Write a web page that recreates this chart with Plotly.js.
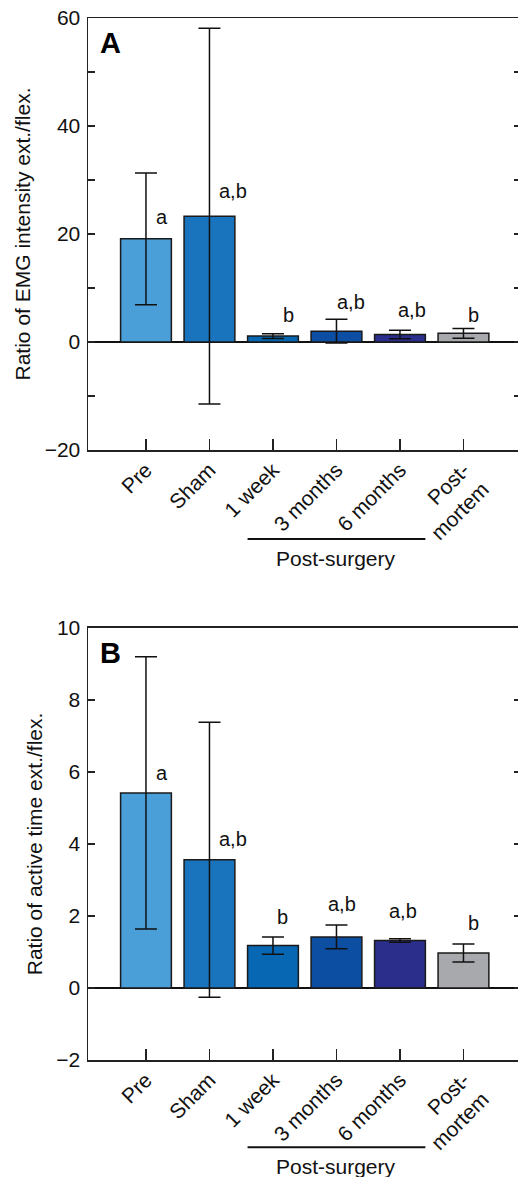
<!DOCTYPE html>
<html>
<head>
<meta charset="utf-8">
<script src="https://cdn.plot.ly/plotly-3.0.1.min.js"></script>
<style>
html,body{margin:0;padding:0;overflow:hidden;background:#fff;}
#chart{width:524px;height:1177px;}
</style>
</head>
<body>
<div id="chart"></div>
<script>
// ---- data ----
const categories = ["Pre", "Sham", "1 week", "3 months", "6 months", "Post-mortem"];
const tickLabels = ["Pre", "Sham", "1 week", "3 months", "6 months", "Post-<br>mortem"];

const emgMean = [19.1, 23.3, 1.1, 2.0, 1.4, 1.6];
const emgErr  = [12.2, 34.8, 0.45, 2.2, 0.8, 0.9];
const emgLetters = ["a", "a,b", "b", "a,b", "a,b", "b"];
const emgLetterY = [23.2, 28.0, 5.0, 7.5, 5.9, 5.0];

const timeMean = [5.42, 3.56, 1.18, 1.42, 1.32, 0.97];
const timeErr  = [3.78, 3.82, 0.24, 0.33, 0.05, 0.25];
const timeLetters = ["a", "a,b", "b", "a,b", "a,b", "b"];
const timeLetterY = [5.97, 4.14, 1.96, 2.34, 2.13, 1.81];

// ---- styling ----
const barColors = ["#4a9fd8", "#1a74bd", "#0767b2", "#0b4ea2", "#2b2e8a", "#a8a9ad"];
const letterDxA = [0.247, 0.365, 0.247, 0.224, 0.184, 0.154];
const letterDxB = [0.247, 0.365, 0.153, 0.082, 0.043, 0.154];
const FONT = "Liberation Sans, Arial, Helvetica, sans-serif";
const idx = categories.map((_, i) => i);

function barTrace(mean, err, xa, ya) {
  return {
    type: "bar", x: idx, y: mean, xaxis: xa, yaxis: ya, width: 0.8,
    marker: {color: barColors, line: {color: "#1a1a1a", width: 1.5}},
    error_y: {type: "data", array: err, visible: true, color: "#111", thickness: 1.5, width: 11},
    showlegend: false, hoverinfo: "skip"
  };
}

const xBase = {
  type: "linear", range: [-0.913, 5.906], tickvals: idx, ticktext: tickLabels,
  tickangle: -45, ticks: "inside", ticklen: 11, tickwidth: 1.5, tickcolor: "#222",
  showline: true, linecolor: "#222", linewidth: 1.5, mirror: true,
  showgrid: false, zeroline: false, fixedrange: true,
  tickfont: {family: FONT, size: 21, color: "#111"}, ticklabelstandoff: -2
};
const yBase = {
  showline: true, linecolor: "#222", linewidth: 1.5, mirror: "ticks",
  ticks: "inside", ticklen: 7, tickwidth: 1.5, tickcolor: "#222",
  showgrid: false, zeroline: true, zerolinecolor: "#111", zerolinewidth: 1.5,
  tickfont: {family: FONT, size: 21, color: "#111"}, ticklabelstandoff: 2,
  title: {font: {family: FONT, size: 21, color: "#111"}, standoff: 8}
};

const layout = {
  width: 524, height: 1177,
  margin: {l: 88, r: 3, t: 18, b: 117},
  paper_bgcolor: "#fff", plot_bgcolor: "#fff",
  bargap: 0.2,
  xaxis: Object.assign({}, xBase, {anchor: "y", domain: [0, 1]}),
  xaxis2: Object.assign({}, xBase, {anchor: "y2", domain: [0, 1]}),
  yaxis: Object.assign({}, yBase, {
    anchor: "x", domain: [0.5854, 1], range: [-20, 60], dtick: 20,
    minor: {dtick: 10, ticks: "inside", ticklen: 7, tickwidth: 1.5, tickcolor: "#222", showgrid: false},
    title: Object.assign({}, yBase.title, {text: "Ratio of EMG intensity ext./flex."})
  }),
  yaxis2: Object.assign({}, yBase, {
    anchor: "x2", domain: [0, 0.4146], range: [-2, 10], dtick: 2,
    title: Object.assign({}, yBase.title, {text: "Ratio of active time ext./flex."})
  }),
  shapes: [
    {type: "line", xref: "x", yref: "paper", x0: 1.6, x1: 4.4, y0: 0.5, y1: 0.5, line: {color: "#111", width: 2}},
    {type: "line", xref: "x2", yref: "paper", x0: 1.6, x1: 4.4, y0: -0.0838, y1: -0.0838, line: {color: "#111", width: 2}}
  ],
  annotations: []
};

const ann = (o) => Object.assign({showarrow: false, xanchor: "center", yanchor: "middle"}, o);
idx.forEach(i => {
  layout.annotations.push(ann({x: i + letterDxA[i], y: emgLetterY[i], xref: "x", yref: "y", text: emgLetters[i],
    font: {family: FONT, size: 20, color: "#111"}}));
  layout.annotations.push(ann({x: i + letterDxB[i], y: timeLetterY[i], xref: "x2", yref: "y2", text: timeLetters[i],
    font: {family: FONT, size: 20, color: "#111"}}));
});
layout.annotations.push(
  ann({x: 3, y: 0.4815, xref: "x", yref: "paper", text: "Post-surgery", font: {family: FONT, size: 21, color: "#111"}}),
  ann({x: 3, y: -0.1024, xref: "x2", yref: "paper", text: "Post-surgery", font: {family: FONT, size: 21, color: "#111"}}),
  ann({x: 0.053, y: 0.976, xref: "paper", yref: "paper", text: "<b>A</b>", font: {family: FONT, size: 29, color: "#000"}}),
  ann({x: 0.053, y: 0.3906, xref: "paper", yref: "paper", text: "<b>B</b>", font: {family: FONT, size: 29, color: "#000"}})
);

Plotly.newPlot("chart", [barTrace(emgMean, emgErr, "x", "y"), barTrace(timeMean, timeErr, "x2", "y2")], layout,
  {displayModeBar: false, staticPlot: true});
</script>
</body>
</html>
